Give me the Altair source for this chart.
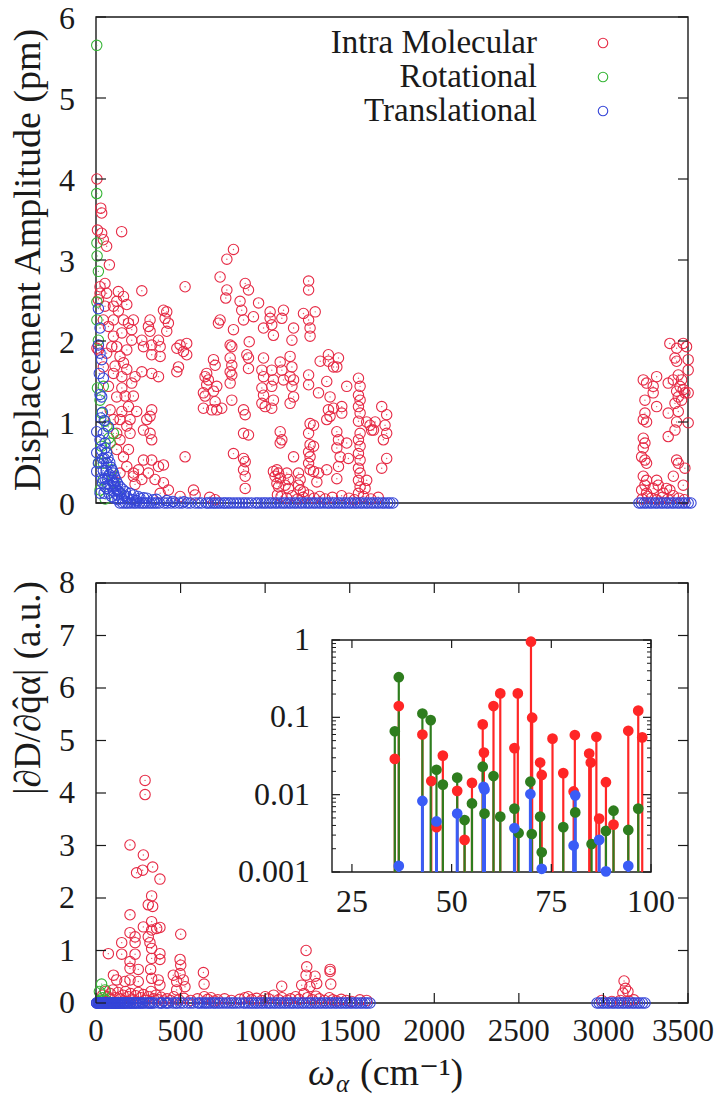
import altair as alt
import pandas as pd

FONT = "'Liberation Serif', 'DejaVu Serif', serif"
RED, GREEN, BLUE = "#e62a45", "#35b535", "#3545d8"
IRED, IGREEN, IBLUE = "#ff2626", "#2e7d1e", "#3a5cf6"
INK = "#1a1a1a"

# ---------------- layout (pixels inside the plot group) ----------------
W = 592
TOP_H = 486
BOT_TOP, BOT_BOT = 566, 986
INS_X0, INS_X1 = 236, 555
INS_Y0, INS_Y1 = 623, 855

# ---------------- axis definitions ----------------
TOP_XMAX = 3230
top_y_ticks = [0, 1, 2, 3, 4, 5, 6]
bot_y_ticks = [0, 1, 2, 3, 4, 5, 6, 7, 8]
bot_x_ticks = [0, 500, 1000, 1500, 2000, 2500, 3000, 3500]
ins_x_ticks = [25, 50, 75, 100]
ins_y_ticks = [0.001, 0.01, 0.1, 1]
ins_y_labels = ["0.001", "0.01", "0.1", "1"]
ins_y_minor = [m * 10.0 ** e for e in (-3, -2, -1) for m in range(2, 10)]

title_top = "Displacement Amplitude (pm)"
title_bot = "|∂D/∂q̂α| (a.u.)"
xtitle_main, xtitle_sub, xtitle_unit = "ω", "α", "(cm⁻¹)"
legend_labels = ["Intra Molecular", "Rotational", "Translational"]

# ---------------- top panel: displacement amplitude ----------------
top_red = [
    (5, 4.0), (26, 3.64), (31, 3.58), (8, 3.37), (31, 3.33), (40, 3.25), (58, 3.17), (140, 3.35),
    (73, 2.94), (49, 2.71), (22, 2.59), (58, 2.59), (13, 2.51), (5, 1.91), (22, 2.67), (49, 2.43),
    (40, 2.26), (68, 2.18), (95, 2.43), (13, 1.89), (58, 1.85), (86, 1.93), (40, 1.68), (95, 1.60),
    (68, 1.44), (113, 1.31), (77, 1.15), (95, 1.03), (131, 0.78), (113, 0.66), (150, 0.57),
    (168, 0.45), (131, 0.37), (204, 0.33),
    (122, 2.61), (150, 2.55), (168, 2.45), (113, 2.49), (122, 2.37), (95, 2.26), (150, 2.26),
    (195, 2.14), (141, 2.10), (95, 2.06), (113, 1.93), (168, 1.89), (131, 1.81), (150, 1.73),
    (104, 1.69), (168, 1.65), (141, 1.56), (195, 1.48), (213, 1.56), (141, 1.42), (159, 1.32),
    (204, 1.32), (177, 1.19), (141, 1.13), (222, 1.13), (186, 1.03), (168, 0.95), (131, 1.03),
    (113, 0.86), (186, 0.86), (259, 0.90), (277, 1.03), (304, 1.15), (295, 1.07), (295, 0.86),
    (304, 0.78), (177, 0.66), (259, 0.53), (232, 0.41), (304, 0.53), (341, 0.45), (368, 0.47),
    (204, 0.37), (286, 0.37), (322, 0.29), (368, 0.25), (250, 0.29), (213, 0.23), (395, 0.16),
    (350, 0.12), (459, 0.08),
    (250, 2.62), (486, 2.67), (368, 2.38), (386, 2.36), (377, 2.28), (395, 2.22), (386, 2.12),
    (295, 2.26), (286, 2.18), (295, 2.12), (204, 2.26), (177, 2.22), (195, 2.01), (250, 2.01),
    (259, 1.93), (304, 1.95), (350, 1.93), (341, 2.01), (459, 1.95), (495, 1.97), (477, 1.87),
    (441, 1.91), (495, 1.83), (450, 1.68), (441, 1.62), (304, 1.83), (350, 1.81), (250, 1.62),
    (304, 1.60), (341, 1.56), (486, 0.57), (532, 0.16), (541, 0.10),
    (750, 3.13), (714, 3.01), (677, 2.79), (814, 2.71), (832, 2.63), (714, 2.63), (708, 2.53),
    (786, 2.49), (795, 2.38), (887, 2.47), (859, 2.30), (950, 2.36), (950, 2.28), (959, 2.20),
    (1023, 2.38), (1014, 2.28), (1132, 2.34), (1196, 2.36), (1160, 2.74), (1160, 2.63),
    (1160, 2.26), (1168, 2.16), (1168, 2.06), (1078, 2.16), (1069, 2.01), (968, 2.07),
    (914, 2.16), (750, 2.14), (677, 2.26), (668, 2.22), (805, 2.26), (836, 1.99), (732, 1.95),
    (641, 1.77), (650, 1.70), (604, 1.60), (595, 1.56), (613, 1.52), (604, 1.46), (586, 1.36),
    (595, 1.32), (659, 1.44), (641, 1.38), (650, 1.25), (586, 1.17), (632, 1.15), (659, 1.15),
    (686, 1.17), (741, 1.93), (732, 1.79), (741, 1.70), (732, 1.62), (741, 1.58), (732, 1.48),
    (741, 1.27), (823, 1.83), (832, 1.79), (832, 1.66), (805, 1.15), (814, 1.09), (805, 0.86),
    (832, 0.84), (750, 0.61), (805, 0.55), (814, 0.51), (805, 0.41), (814, 0.33), (814, 0.18),
    (914, 1.79), (905, 1.64), (914, 1.56), (905, 1.42), (914, 1.33), (905, 1.23), (923, 1.19),
    (959, 1.64), (968, 1.52), (959, 1.44), (968, 1.27), (959, 1.17), (1005, 1.74), (1014, 1.64),
    (1023, 1.52), (1059, 1.81), (1069, 1.68), (1059, 1.56), (1078, 1.52), (1069, 1.44),
    (1078, 1.31), (1059, 1.23), (1160, 1.58), (1160, 1.46), (1214, 1.36),
    (1005, 0.88), (1014, 0.78), (1005, 0.74), (1168, 0.98), (1187, 0.96), (1160, 0.86),
    (1168, 0.72), (1187, 0.70), (1160, 0.63), (1168, 0.57), (1160, 0.49), (1168, 0.41),
    (1078, 0.57), (987, 0.41), (996, 0.37), (1005, 0.31), (987, 0.24), (996, 0.20), (1041, 0.37),
    (1050, 0.29), (1032, 0.22), (1105, 0.22), (1114, 0.16), (1132, 0.14), (1187, 0.39),
    (1214, 0.37), (1205, 0.26), (1259, 0.41), (1105, 0.37), (1114, 0.29), (968, 0.39),
    (977, 0.33), (1050, 0.18),
    (1268, 1.83), (1268, 1.75), (1223, 1.75), (1296, 1.68), (1323, 1.79), (1314, 1.68),
    (1259, 1.50), (1277, 1.31), (1296, 1.17), (1268, 1.15), (1277, 1.07), (1259, 1.03),
    (1341, 1.19), (1341, 1.11), (1368, 1.44), (1432, 1.54), (1441, 1.44), (1432, 1.33),
    (1441, 1.27), (1432, 1.19), (1441, 1.11), (1432, 1.01), (1441, 0.86), (1432, 0.78),
    (1441, 0.70), (1432, 0.61), (1441, 0.53), (1432, 0.43), (1441, 0.37), (1432, 0.28),
    (1441, 0.20), (1314, 0.88), (1323, 0.78), (1314, 0.68), (1332, 0.57), (1323, 0.45),
    (1314, 0.30), (1368, 0.74), (1377, 0.55), (1477, 1.00), (1495, 0.96), (1504, 0.90),
    (1523, 1.00), (1514, 0.90), (1559, 1.19), (1586, 1.09), (1577, 0.96), (1586, 0.86),
    (1568, 0.78), (1586, 0.55), (1559, 0.43), (1477, 0.28), (1468, 0.18), (1432, 0.12),
    (620, 0.07), (650, 0.04), (990, 0.10), (1010, 0.08), (1040, 0.06), (1070, 0.09), (1100, 0.05),
    (1130, 0.07), (1160, 0.10), (1190, 0.06), (1220, 0.08), (1250, 0.05), (1290, 0.07),
    (1340, 0.09), (1380, 0.06), (1410, 0.04), (1460, 0.08), (1500, 0.05), (1540, 0.07),
    (3131, 1.97), (3168, 1.91), (3204, 1.97), (3222, 1.93), (3159, 1.79), (3168, 1.75),
    (3231, 1.77), (3231, 1.64), (2986, 1.52), (3004, 1.48), (3040, 1.44), (3059, 1.56),
    (3040, 1.36), (3122, 1.48), (3150, 1.52), (3177, 1.58), (3195, 1.52), (3186, 1.44),
    (3168, 1.38), (3204, 1.40), (3177, 1.31), (3213, 1.36), (3195, 1.27), (3159, 1.23),
    (3231, 1.36), (2995, 1.27), (3059, 1.19), (2995, 1.11), (2986, 1.03), (3004, 1.00),
    (3122, 1.11), (3177, 1.13), (3168, 1.00), (3231, 0.99), (3159, 0.90), (3122, 0.82),
    (2986, 0.80), (2995, 0.74), (2986, 0.68), (2977, 0.57), (2995, 0.53), (3004, 0.49),
    (3168, 0.53), (3177, 0.49), (3213, 0.43), (3150, 0.33), (3204, 0.22), (2986, 0.33),
    (3004, 0.28), (2995, 0.22), (3059, 0.28), (2977, 0.16), (3004, 0.12), (3040, 0.18),
    (3068, 0.22), (3113, 0.18), (3131, 0.16), (3095, 0.12), (2980, 0.05), (3010, 0.08),
    (3030, 0.06), (3060, 0.04), (3090, 0.07), (3120, 0.05), (3150, 0.09), (3180, 0.06), (3210, 0.04),
]

top_green = [
    (4, 5.65), (4, 3.82), (5, 3.21), (6, 3.05), (13, 2.86), (5, 2.48), (5, 2.26), (13, 2.01),
    (8, 1.42), (40, 1.44), (22, 1.27), (31, 1.11), (49, 1.01), (95, 0.86), (77, 0.74), (58, 0.62),
    (40, 0.49), (86, 0.41), (40, 0.29), (22, 0.16), (60, 0.95), (70, 0.80), (30, 0.70),
    (100, 0.25), (120, 0.15), (50, 0.05), (15, 0.50),
]

top_blue = [
    (13, 2.40), (22, 2.16), (13, 1.95), (22, 1.85), (31, 1.77), (40, 1.54), (22, 1.34), (31, 1.31),
    (18, 1.60), (35, 1.12), (45, 1.02), (26, 1.05), (4, 0.88), (40, 0.86), (68, 0.94), (22, 0.78),
    (49, 0.68), (4, 0.62), (13, 0.49), (58, 0.49), (4, 0.39), (31, 0.31), (68, 0.33), (95, 0.24),
    (113, 0.16), (49, 0.20), (22, 0.12), (131, 0.12), (168, 0.08), (240, 0.06), (313, 0.04),
    (50, 0.74), (58, 0.62), (65, 0.56), (75, 0.50), (82, 0.44), (90, 0.40), (95, 0.37),
    (102, 0.32), (110, 0.28), (118, 0.24), (131, 0.20), (145, 0.17), (160, 0.14), (186, 0.12),
    (205, 0.10), (230, 0.08), (260, 0.065), (277, 0.06), (330, 0.045), (386, 0.03), (420, 0.02),
    (480, 0.015), (45, 0.55), (55, 0.40), (62, 0.30), (72, 0.35), (78, 0.22), (88, 0.28),
    (96, 0.15), (105, 0.20), (115, 0.10), (125, 0.14), (140, 0.06), (155, 0.09), (175, 0.05),
    (200, 0.04), (220, 0.03), (60, 0.18), (70, 0.12), (85, 0.08), (100, 0.06), (120, 0.04),
    (40, 0.40), (35, 0.55), (30, 0.65), (50, 0.30), (44, 0.12), (36, 0.25),
]

# translational modes with (near) zero amplitude, cm^-1
blue_zero_freq = [
    130, 146, 161, 174, 189, 206, 219, 236, 251, 262, 276, 291, 304, 318, 331, 346, 372, 389,
    410, 431, 454, 471, 498, 516, 541, 559, 576, 601, 612, 626, 641, 652, 666, 679, 696, 706,
    721, 734, 751, 768, 784, 801, 815, 831, 849, 871, 884, 901, 916, 929, 946, 959, 976, 989,
    1006, 1021, 1034, 1051, 1064, 1081, 1094, 1111, 1124, 1141, 1156, 1169, 1186, 1199, 1216,
    1229, 1246, 1262, 1274, 1291, 1304, 1321, 1334, 1351, 1364, 1381, 1394, 1411, 1424, 1441,
    1454, 1471, 1484, 1501, 1514, 1531, 1544, 1561, 1574, 1591, 1604, 1620,
    2962, 2975, 2991, 3004, 3021, 3034, 3051, 3064, 3081, 3094, 3111, 3124, 3141, 3154, 3171,
    3184, 3201, 3214, 3231, 3246,
]

# ---------------- bottom panel: |dD/dq| ----------------
bot_red = [
    (290, 4.24), (290, 3.97), (201, 3.01), (280, 2.82), (240, 2.48), (276, 2.53), (335, 2.59),
    (378, 2.36), (329, 2.04), (309, 1.87), (335, 1.84), (201, 1.68), (280, 1.45), (329, 1.55),
    (329, 1.39), (378, 1.44), (359, 1.42), (201, 1.34), (231, 1.26), (231, 1.15), (309, 1.26),
    (319, 1.15), (501, 1.31), (152, 1.15), (329, 1.04), (378, 0.94), (329, 0.85), (378, 0.83),
    (73, 0.94), (152, 0.93), (231, 0.93), (201, 0.79), (250, 0.64), (201, 0.66), (497, 0.83),
    (501, 0.72), (323, 0.64), (457, 0.53), (497, 0.56), (516, 0.44), (635, 0.58), (639, 0.36),
    (103, 0.53), (122, 0.44), (171, 0.41), (201, 0.44), (250, 0.41), (329, 0.47), (368, 0.44),
    (378, 0.34), (477, 0.41), (526, 0.31), (477, 0.25), (1242, 1.00), (1246, 0.69), (1242, 0.53),
    (1384, 0.64), (1384, 0.60), (1388, 0.36), (1295, 0.51), (1305, 0.37), (1098, 0.32),
    (1216, 0.34), (1265, 0.31), (3122, 0.42), (3130, 0.28), (3145, 0.22), (3115, 0.19),
    (40, 0.15), (55, 0.22), (70, 0.12), (85, 0.18), (100, 0.25), (115, 0.10), (130, 0.20),
    (145, 0.08), (160, 0.15), (175, 0.22), (190, 0.12), (205, 0.18), (220, 0.06), (235, 0.14),
    (250, 0.20), (265, 0.10), (280, 0.16), (295, 0.05), (310, 0.12), (325, 0.22), (340, 0.08),
    (355, 0.15), (370, 0.06), (385, 0.11), (400, 0.04), (420, 0.08), (440, 0.05), (460, 0.12),
    (490, 0.06), (520, 0.09), (560, 0.05), (600, 0.08), (640, 0.12), (660, 0.07), (680, 0.10),
    (700, 0.04), (720, 0.06), (760, 0.08), (800, 0.05), (850, 0.07), (880, 0.10), (900, 0.12),
    (920, 0.06), (950, 0.09), (980, 0.05), (1000, 0.12), (1020, 0.08), (1050, 0.15), (1080, 0.06),
    (1100, 0.10), (1130, 0.05), (1150, 0.08), (1180, 0.12), (1200, 0.07), (1230, 0.18),
    (1250, 0.10), (1280, 0.06), (1300, 0.13), (1320, 0.08), (1350, 0.05), (1380, 0.10),
    (1400, 0.06), (1420, 0.04), (1450, 0.07), (1480, 0.05), (1510, 0.03), (1560, 0.06),
    (1600, 0.05), (2990, 0.05), (3050, 0.03), (3100, 0.05), (3150, 0.04), (3180, 0.06),
]

bot_green = [(33, 0.36), (53, 0.25), (20, 0.22), (40, 0.10), (60, 0.05), (25, 0.05)]

# ---------------- inset: low-frequency modes (log scale) ----------------
ins_red = [
    (35.75, 0.029), (36.75, 0.14), (42.67, 0.060), (44.9, 0.015), (46.2, 0.0038), (47.8, 0.032),
    (51.4, 0.0112), (53.25, 0.0026), (55.1, 0.0142), (57.8, 0.081), (58.1, 0.035), (60.5, 0.14),
    (62.2, 0.204), (65.75, 0.040), (66.6, 0.204), (69.9, 0.95), (70.2, 0.099), (72.2, 0.026),
    (72.6, 0.018), (75.3, 0.053), (78.0, 0.019), (80.9, 0.059), (80.6, 0.011), (84.5, 0.034),
    (84.9, 0.026), (86.3, 0.056), (87.0, 0.0049), (88.7, 0.0145), (90.6, 0.0041), (94.3, 0.067),
    (96.8, 0.122), (97.8, 0.055),
]
ins_green = [
    (35.75, 0.066), (36.75, 0.33), (42.67, 0.112), (44.75, 0.092), (46.2, 0.021), (47.8, 0.0135),
    (51.4, 0.0166), (53.25, 0.0047), (55.1, 0.0077), (57.8, 0.023), (58.25, 0.0057),
    (60.5, 0.0174), (62.2, 0.0052), (65.75, 0.0066), (66.8, 0.0032), (69.75, 0.0147),
    (70.1, 0.0031), (72.2, 0.0052), (72.6, 0.0018), (78.0, 0.0038), (81.0, 0.0059),
    (85.1, 0.0023), (88.7, 0.0034), (90.6, 0.0062), (94.3, 0.0035), (96.8, 0.0066),
]
ins_blue = [
    (36.75, 0.0012), (42.67, 0.0083), (46.2, 0.0045), (51.4, 0.0057), (58.0, 0.0126),
    (58.25, 0.0117), (65.75, 0.0037), (69.75, 0.0102), (72.6, 0.0011), (81.0, 0.0098),
    (80.6, 0.0022), (87.0, 0.0026), (88.7, 0.00102), (94.3, 0.0012),
]


def frame(pairs):
    return pd.DataFrame({"x": [p[0] for p in pairs], "y": [p[1] for p in pairs]})


# ---------------- scales ----------------
xs_top = alt.Scale(domain=[0, TOP_XMAX], range=[0, W], nice=False, zero=False)
ys_top = alt.Scale(domain=[top_y_ticks[0], top_y_ticks[-1]], range=[TOP_H, 0], nice=False)
xs_bot = alt.Scale(domain=[bot_x_ticks[0], bot_x_ticks[-1]], range=[0, W], nice=False, zero=False)
ys_bot = alt.Scale(domain=[bot_y_ticks[0], bot_y_ticks[-1]], range=[BOT_BOT, BOT_TOP], nice=False)
xs_ins = alt.Scale(domain=[20, 100], range=[INS_X0, INS_X1], nice=False, zero=False)
ys_ins = alt.Scale(type="log", domain=[0.001, 1], range=[INS_Y1, INS_Y0], nice=False)


def scatter(df, color, xs, ys):
    enc = dict(x=alt.X("x:Q", scale=xs, axis=None), y=alt.Y("y:Q", scale=ys, axis=None))
    ring = alt.Chart(df).mark_point(shape="circle", filled=False, size=108, strokeWidth=1.1,
                                    color=color, opacity=1).encode(**enc)
    dot = alt.Chart(df).mark_point(shape="circle", filled=True, size=2, color=color,
                                   opacity=0.8).encode(**enc)
    return [ring, dot]


def yticks(vals, ys, x0, x1, sw=1.2):
    return alt.Chart(pd.DataFrame({"v": vals})).mark_rule(color=INK, strokeWidth=sw).encode(
        y=alt.Y("v:Q", scale=ys, axis=None), x=alt.value(x0), x2=alt.value(x1))


def xticks(vals, xs, y0, y1, sw=1.2):
    return alt.Chart(pd.DataFrame({"v": vals})).mark_rule(color=INK, strokeWidth=sw).encode(
        x=alt.X("v:Q", scale=xs, axis=None), y=alt.value(y0), y2=alt.value(y1))


def ylabels(vals, labels, ys, x, size=32, dy=0):
    df = pd.DataFrame({"v": vals, "t": labels})
    kw = dict(font=FONT, fontSize=size, align="right", baseline="middle", color=INK)
    if dy:
        kw["dy"] = dy
    return alt.Chart(df).mark_text(**kw).encode(
        y=alt.Y("v:Q", scale=ys, axis=None), x=alt.value(x), text="t:N")


def xlabels(vals, labels, xs, y, size=32, dx=0):
    df = pd.DataFrame({"v": vals, "t": labels})
    kw = dict(font=FONT, fontSize=size, align="center", baseline="middle", color=INK)
    if dx:
        kw["dx"] = dx
    return alt.Chart(df).mark_text(**kw).encode(
        x=alt.X("v:Q", scale=xs, axis=None), y=alt.value(y), text="t:N")


def text_at(text, x, y, size, angle=0, align="center", baseline="middle", italic=False):
    kw = dict(font=FONT, fontSize=size, align=align, baseline=baseline, color=INK)
    if angle:
        kw["angle"] = angle
    if italic:
        kw["fontStyle"] = "italic"
    return alt.Chart(pd.DataFrame({"t": [text]})).mark_text(**kw).encode(
        x=alt.value(x), y=alt.value(y), text="t:N")


def box(xs, ys, x0, x1, y0, y1, fill_opacity=0.0):
    return alt.Chart(pd.DataFrame({"k": [0]})).mark_rect(
        fill="white", fillOpacity=fill_opacity, stroke=INK, strokeWidth=1.4).encode(
        x=alt.X(datum=x0, scale=xs, axis=None), x2=alt.X2(datum=x1),
        y=alt.Y(datum=y0, scale=ys, axis=None), y2=alt.Y2(datum=y1))


# ---------------- top panel ----------------
top_layers = [box(xs_top, ys_top, 0, TOP_XMAX, top_y_ticks[0], top_y_ticks[-1])]
top_layers += scatter(frame(top_red), RED, xs_top, ys_top)
top_layers += scatter(frame(top_green), GREEN, xs_top, ys_top)
top_layers += scatter(frame(top_blue + [(f, 0.0) for f in blue_zero_freq]), BLUE, xs_top, ys_top)
top_layers += [
    yticks(top_y_ticks, ys_top, 0, 10),
    yticks(top_y_ticks, ys_top, W - 10, W),
    ylabels(top_y_ticks, [str(v) for v in top_y_ticks], ys_top, -21, dy=2),
]
top = alt.layer(*top_layers)

# ---------------- bottom panel ----------------
bot_blue_freq = [p[0] for p in top_blue] + blue_zero_freq
bot_layers = [box(xs_bot, ys_bot, bot_x_ticks[0], bot_x_ticks[-1], bot_y_ticks[0], bot_y_ticks[-1])]
bot_layers += scatter(frame(bot_red), RED, xs_bot, ys_bot)
bot_layers += scatter(frame(bot_green), GREEN, xs_bot, ys_bot)
bot_layers += scatter(frame([(f, 0.0) for f in bot_blue_freq]), BLUE, xs_bot, ys_bot)
bot_layers += [
    yticks(bot_y_ticks, ys_bot, 0, 10),
    yticks(bot_y_ticks, ys_bot, W - 10, W),
    xticks(bot_x_ticks, xs_bot, BOT_BOT, BOT_BOT - 10),
    xticks(bot_x_ticks, xs_bot, BOT_TOP, BOT_TOP + 10),
    ylabels(bot_y_ticks, [str(v) for v in bot_y_ticks], ys_bot, -21),
    xlabels(bot_x_ticks[:-1], [str(v) for v in bot_x_ticks[:-1]], xs_bot, BOT_BOT + 29, size=31),
    xlabels(bot_x_ticks[-1:], [str(v) for v in bot_x_ticks[-1:]], xs_bot, BOT_BOT + 29, size=31, dx=-5),
]
bottom = alt.layer(*bot_layers)


# ---------------- inset ----------------
def stems(pairs, color, sw):
    df = frame(pairs)
    return alt.Chart(df).mark_rule(color=color, strokeWidth=sw).encode(
        x=alt.X("x:Q", scale=xs_ins, axis=None),
        y=alt.Y("y:Q", scale=ys_ins, axis=None), y2=alt.Y2(datum=ins_y_ticks[0]))


def dots(pairs, color):
    df = frame(pairs)
    return alt.Chart(df).mark_point(shape="circle", filled=True, size=115, color=color,
                                    opacity=1).encode(
        x=alt.X("x:Q", scale=xs_ins, axis=None), y=alt.Y("y:Q", scale=ys_ins, axis=None))


ins_layers = [
    box(xs_ins, ys_ins, 20, 100, ins_y_ticks[0], ins_y_ticks[-1], fill_opacity=1.0),
    stems(ins_red, IRED, 2.2), stems(ins_green, IGREEN, 2.2), stems(ins_blue, IBLUE, 3.0),
    dots(ins_green, IGREEN), dots(ins_red, IRED), dots(ins_blue, IBLUE),
    yticks(ins_y_ticks, ys_ins, INS_X0, INS_X0 + 8),
    yticks(ins_y_ticks, ys_ins, INS_X1 - 8, INS_X1),
    yticks(ins_y_minor, ys_ins, INS_X0, INS_X0 + 4, sw=1.0),
    yticks(ins_y_minor, ys_ins, INS_X1 - 4, INS_X1, sw=1.0),
    xticks(ins_x_ticks, xs_ins, INS_Y1, INS_Y1 - 8),
    xticks(ins_x_ticks, xs_ins, INS_Y0, INS_Y0 + 8),
    ylabels(ins_y_ticks, ins_y_labels, ys_ins, INS_X0 - 22),
    xlabels(ins_x_ticks, [str(v) for v in ins_x_ticks], xs_ins, INS_Y1 + 30),
]
inset = alt.layer(*ins_layers)

# ---------------- legend ----------------
leg_df = pd.DataFrame({"label": legend_labels, "row": list(range(len(legend_labels)))})
leg_y = alt.Y("row:Q", scale=alt.Scale(domain=[0, 2], range=[26, 94], nice=False, zero=False), axis=None)
leg_text = alt.Chart(leg_df).mark_text(font=FONT, fontSize=33, align="right", baseline="middle",
                                       color=INK).encode(y=leg_y, x=alt.value(441), text="label:N")
leg_pts = alt.Chart(leg_df).mark_point(shape="circle", filled=False, size=90, strokeWidth=1.1,
                                       opacity=1).encode(
    y=leg_y, x=alt.value(507),
    color=alt.Color("label:N", scale=alt.Scale(domain=legend_labels, range=[RED, GREEN, BLUE]),
                    legend=None))
legend = alt.layer(leg_text, leg_pts)

# ---------------- titles ----------------
titles = alt.layer(
    text_at(title_top, -67, 243, 38, angle=270),
    text_at(title_bot, -67, 671, 37, angle=270),
    text_at(xtitle_main, 212, 1068, 38, align="left", baseline="alphabetic", italic=True),
    text_at(xtitle_sub, 240, 1075, 25, align="left", baseline="alphabetic", italic=True),
    text_at(xtitle_unit, 264, 1068, 38, align="left", baseline="alphabetic"),
)

chart = alt.layer(top, bottom, inset, legend, titles).resolve_scale(
    x="independent", y="independent", color="independent"
).properties(
    width=W, height=BOT_BOT,
    autosize=alt.AutoSizeParams(type="none"),
    padding={"left": 88, "top": 9, "right": 28, "bottom": 96},
).configure_view(stroke=None)

chart.save("out.html", embed_options={"renderer": "svg", "actions": False})
